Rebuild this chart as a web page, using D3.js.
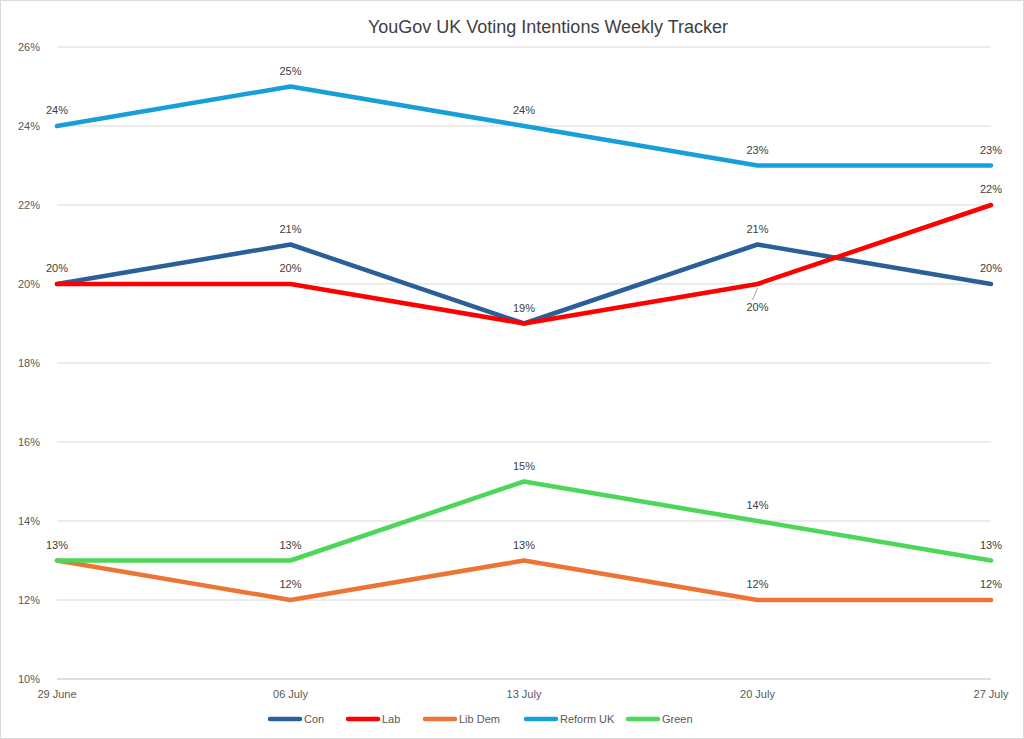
<!DOCTYPE html>
<html lang="en">
<head>
<meta charset="UTF-8">
<script src="https://cdn.jsdelivr.net/npm/d3@7"></script>
<style>
body { margin: 0; background: #fff; }
text { font-family: "Liberation Sans", Arial, sans-serif; }
</style>
</head>
<body>
<script>
// data
var weeks = ["29 June", "06 July", "13 July", "20 July", "27 July"];
var con = [20, 21, 19, 21, 20];
var lab = [20, 20, 19, 20, 22];
var libDem = [13, 12, 13, 12, 12];
var reform = [24, 25, 24, 23, 23];
var green = [13, 13, 15, 14, 13];
var yTicks = [10, 12, 14, 16, 18, 20, 22, 24, 26];

var series = [
  { name: "Con", values: con, color: "#2A5F97" },
  { name: "Lab", values: lab, color: "#FF0000" },
  { name: "Lib Dem", values: libDem, color: "#EC7535" },
  { name: "Reform UK", values: reform, color: "#169FD8" },
  { name: "Green", values: green, color: "#4CD65A" }
];

// which labels to show, and where (1 = above, -1 = below)
var labelPlace = {
  "Con": [1, 1, 1, 1, 1],
  "Lab": [0, 1, 0, -1, 1],
  "Lib Dem": [0, 1, 1, 1, 1],
  "Reform UK": [1, 1, 1, 1, 1],
  "Green": [1, 1, 1, 1, 1]
};

var width = 1024, height = 739;
var svg = d3.select("body").append("svg")
  .attr("width", width).attr("height", height);

svg.append("rect").attr("x", 0.5).attr("y", 0.5)
  .attr("width", width - 1).attr("height", height - 1)
  .attr("fill", "#fff").attr("stroke", "#d9d9d9");

var x = d3.scalePoint().domain(weeks).range([57, 991]);
var y = d3.scaleLinear().domain([10, 26]).range([679, 47]);

svg.append("text").attr("x", 548).attr("y", 33)
  .attr("text-anchor", "middle").attr("font-size", 18).attr("fill", "#404040")
  .text("YouGov UK Voting Intentions Weekly Tracker");

// gridlines
svg.append("g").selectAll("line").data(yTicks).join("line")
  .attr("x1", 57).attr("x2", 991)
  .attr("y1", d => y(d)).attr("y2", d => y(d))
  .attr("stroke", d => d === 10 ? "#bfbfbf" : "#d9d9d9").attr("stroke-width", 1);

svg.append("g").selectAll("text").data(yTicks).join("text")
  .attr("x", 40).attr("y", d => y(d) + 4)
  .attr("text-anchor", "end").attr("font-size", 11).attr("fill", "#595959")
  .text(d => d + "%");

svg.append("g").selectAll("text").data(weeks).join("text")
  .attr("x", d => x(d)).attr("y", 698)
  .attr("text-anchor", "middle").attr("font-size", 11).attr("fill", "#595959")
  .text(d => d);

var line = d3.line().x((d, i) => x(weeks[i])).y(d => y(d));

series.forEach(function (s) {
  svg.append("path").datum(s.values)
    .attr("d", line).attr("fill", "none")
    .attr("stroke", s.color).attr("stroke-width", 4.5)
    .attr("stroke-linejoin", "round").attr("stroke-linecap", "round");
});

series.forEach(function (s) {
  s.values.forEach(function (v, i) {
    var p = labelPlace[s.name][i];
    if (!p) return;
    var ly = p > 0 ? y(v) - 12 : y(v) + 27;
    if (p < 0) {
      svg.append("line").attr("x1", x(weeks[i])).attr("y1", y(v) + 4)
        .attr("x2", x(weeks[i]) - 5).attr("y2", y(v) + 16)
        .attr("stroke", "#a6a6a6").attr("stroke-width", 1);
    }
    svg.append("text").attr("x", x(weeks[i])).attr("y", ly)
      .attr("text-anchor", "middle").attr("font-size", 11).attr("fill", "#404040")
      .text(v + "%");
  });
});

// legend
var legendX = [270, 348, 425, 526, 628];
var lg = svg.append("g").selectAll("g").data(series).join("g")
  .attr("transform", (d, i) => "translate(" + legendX[i] + ",719)");
lg.append("line").attr("x1", 0).attr("x2", 30)
  .attr("stroke", d => d.color).attr("stroke-width", 4.5).attr("stroke-linecap", "round");
lg.append("text").attr("x", 34).attr("y", 4)
  .attr("font-size", 11).attr("fill", "#595959").text(d => d.name);
</script>
</body>
</html>
